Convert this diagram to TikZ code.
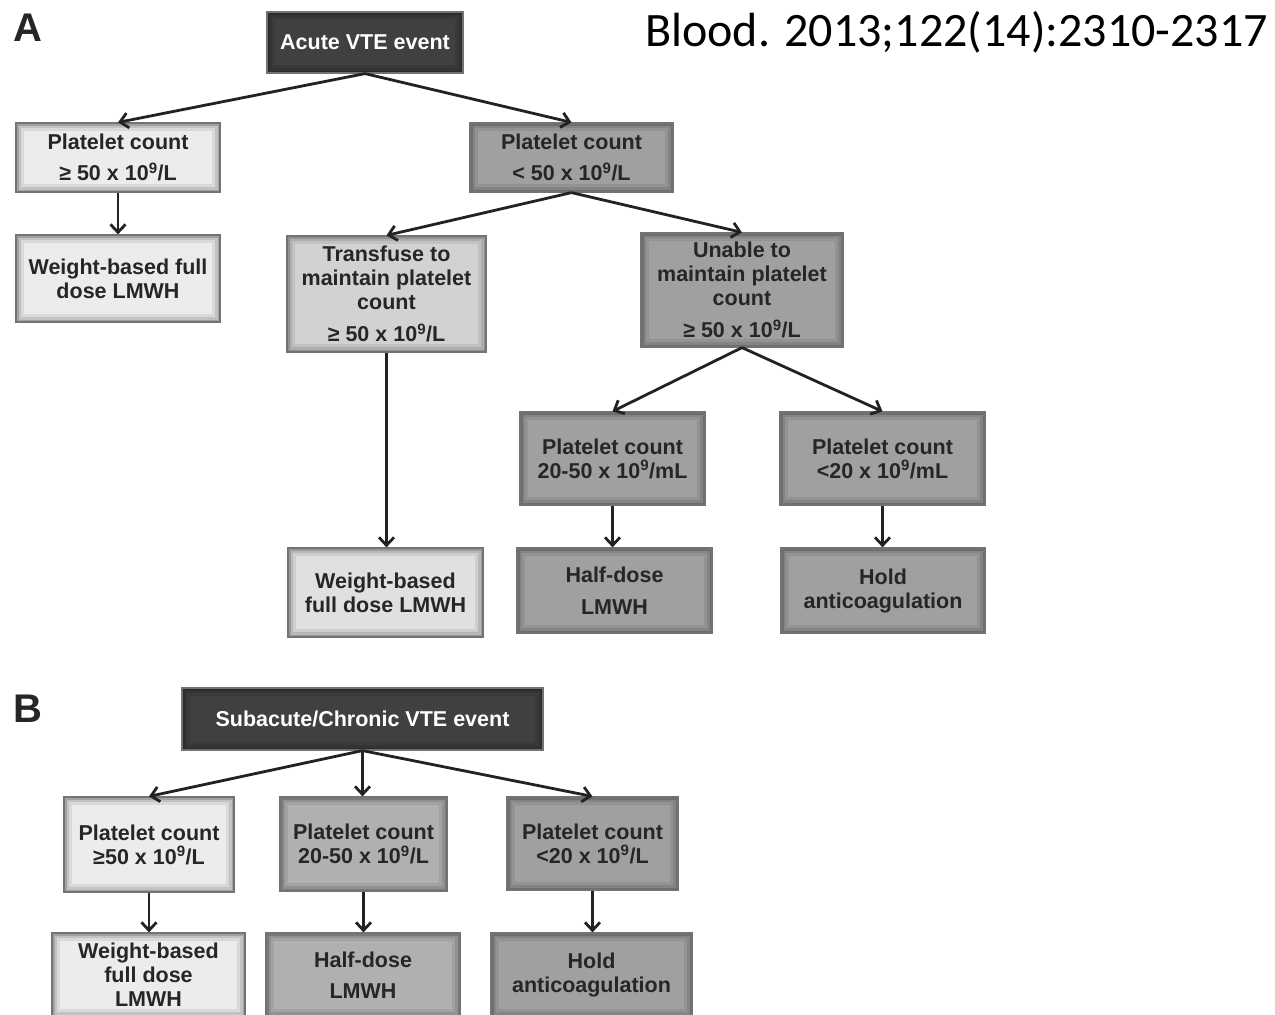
\documentclass[tikz,border=0pt]{standalone}
\usepackage{fontspec}
\setmainfont{Liberation Sans}
\newfontfamily\citefont{Carlito}
\usetikzlibrary{arrows.meta}
\definecolor{txt}{HTML}{262626}
\definecolor{darkbox}{HTML}{404040}
\definecolor{lightbox}{HTML}{ECECEC}
\definecolor{lightbox2}{HTML}{E0E0E0}
\definecolor{transbox}{HTML}{D2D2D2}
\definecolor{midbox}{HTML}{A0A0A0}
\definecolor{midboxB}{HTML}{B0B0B0}
\definecolor{arrowc}{HTML}{222222}
\tikzset{
  box/.style={draw=black!55, line width=1.2pt, fill=#1, inner sep=0pt, align=center,
    font=\fontsize{21.5}{24}\selectfont\bfseries, text=txt,
    path picture={
      \foreach \w/\o in {16/0.08,10/0.10,5/0.16}{
        \draw[black, opacity=\o, line width=\w pt]
          (path picture bounding box.south west) rectangle (path picture bounding box.north east);}
    }},
  darkstyle/.style={box=darkbox, text=white},
  conn/.style={draw=arrowc, line width=2.8pt, -{Straight Barb[length=8pt,width=15pt]}},
  panel/.style={font=\fontsize{40}{44}\selectfont\bfseries, text=black!85, inner sep=0pt, anchor=base west}
}
\begin{document}
\begin{tikzpicture}[x=1pt,y=-1pt]
\useasboundingbox (0,0) rectangle (1275,1015);
\clip (0,0) rectangle (1275,1015);

% labels
\node[panel] (la) at (13,41) {A};
\node[panel] (lb) at (13,722) {B};
\node[font=\citefont\fontsize{48}{52}\selectfont, anchor=base east, inner sep=0pt] (cite) at (1268,46) {Blood. 2013;122(14):2310-2317};

% Panel A
\node[darkstyle, minimum width=196, minimum height=61] (acute) at (365,42.5) {Acute VTE event};
\node[box=lightbox, minimum width=204, minimum height=69] (pa1) at (118,157.5) {Platelet count\\[7pt]≥ 50 x 10\textsuperscript{9}/L};
\node[box=lightbox, minimum width=204, minimum height=87] (wa1) at (118,278.5) {Weight-based full\\dose LMWH};
\node[box=midbox, minimum width=203, minimum height=69] (pa2) at (571.5,157.5) {Platelet count\\[7pt]< 50 x 10\textsuperscript{9}/L};
\node[box=transbox, minimum width=199, minimum height=116] (tr) at (386.5,294) {Transfuse to\\maintain platelet\\count\\[8pt]≥ 50 x 10\textsuperscript{9}/L};
\node[box=midbox, minimum width=202, minimum height=114] (un) at (742,290) {Unable to\\maintain platelet\\count\\[8pt]≥ 50 x 10\textsuperscript{9}/L};
\node[box=midbox, minimum width=185, minimum height=93] (pa3) at (612.5,458.5) {Platelet count\\20-50 x 10\textsuperscript{9}/mL};
\node[box=midbox, minimum width=205, minimum height=93] (pa4) at (882.5,458.5) {Platelet count\\<20 x 10\textsuperscript{9}/mL};
\node[box=lightbox2, minimum width=195, minimum height=89] (wa2) at (385.5,592.5) {Weight-based\\full dose LMWH};
\node[box=midbox, minimum width=195, minimum height=85] (ha) at (614.5,590.5) {Half-dose\\[8pt]LMWH};
\node[box=midbox, minimum width=204, minimum height=85] (ho) at (883,590.5) {Hold\\anticoagulation};

\draw[conn] (acute.south) -- (pa1.north);
\draw[conn] (acute.south) -- (pa2.north);
\draw[conn] (pa1.south) -- (pa1.south |- wa1.north);
\draw[conn] (pa2.south) -- (tr.north);
\draw[conn] (pa2.south) -- (un.north);
\draw[conn] (tr.south) -- (tr.south |- wa2.north);
\draw[conn] (un.south) -- (pa3.north);
\draw[conn] (un.south) -- (pa4.north);
\draw[conn] (pa3.south) -- (pa3.south |- ha.north);
\draw[conn] (pa4.south) -- (pa4.south |- ho.north);

% Panel B
\node[darkstyle, minimum width=361, minimum height=62] (sub) at (362.5,719) {Subacute/Chronic VTE event};
\node[box=lightbox, minimum width=170, minimum height=95] (pb1) at (149,844.5) {Platelet count\\≥50 x 10\textsuperscript{9}/L};
\node[box=midboxB, minimum width=167, minimum height=94] (pb2) at (363.5,844) {Platelet count\\20-50 x 10\textsuperscript{9}/L};
\node[box=midbox, minimum width=171, minimum height=93] (pb3) at (592.5,843.5) {Platelet count\\<20 x 10\textsuperscript{9}/L};
\node[box=lightbox, minimum width=193, minimum height=84] (wb) at (148.5,975) {Weight-based\\full dose\\LMWH};
\node[box=midboxB, minimum width=194, minimum height=84] (hb) at (363,975) {Half-dose\\[7pt]LMWH};
\node[box=midbox, minimum width=201, minimum height=84] (hob) at (591.5,975) {Hold\\anticoagulation};

\draw[conn] (sub.south) -- (pb1.north);
\draw[conn] (sub.south) -- (sub.south |- pb2.north);
\draw[conn] (sub.south) -- (pb3.north);
\draw[conn] (pb1.south) -- (pb1.south |- wb.north);
\draw[conn] (pb2.south) -- (pb2.south |- hb.north);
\draw[conn] (pb3.south) -- (pb3.south |- hob.north);
\end{tikzpicture}
\end{document}
